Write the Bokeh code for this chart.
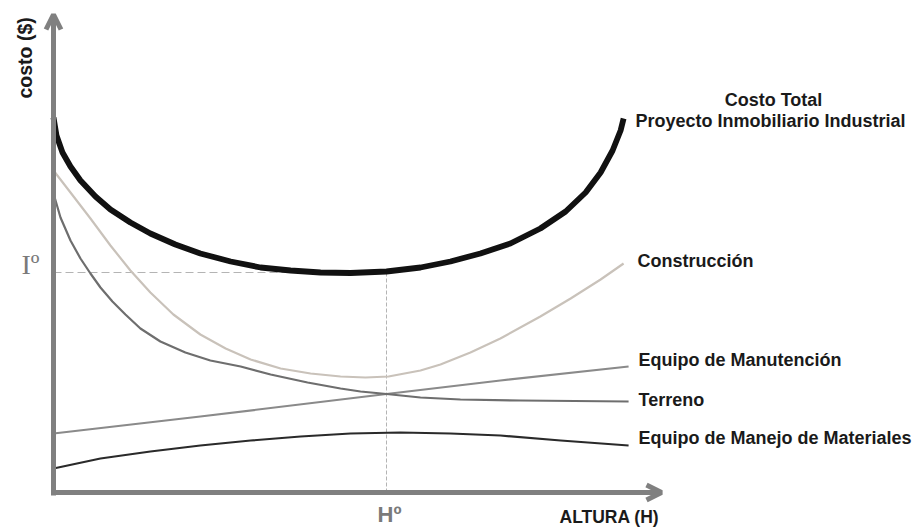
from bokeh.plotting import figure
from bokeh.models import Arrow, OpenHead, Label
from bokeh.embed import file_html
from bokeh.resources import INLINE

# ---------------- data (H° = 10, I° = 22) ----------------
H_OPT = 10.0
I_OPT = 22.0

total_x = [0, 0.09, 0.27, 0.51, 0.81, 1.26, 1.71, 2.31, 2.91, 3.66, 4.41, 5.32, 6.22,
           7.12, 8.02, 8.92, 10.0, 11.02, 11.92, 12.82, 13.72, 14.62, 15.38, 15.98,
           16.43, 16.79, 17.03, 17.12]
total_y = [37.5, 35.7, 34.0, 32.6, 31.2, 29.6, 28.3, 27.0, 25.9, 24.8, 23.9, 23.1, 22.5,
           22.2, 22.0, 21.95, 22.1, 22.5, 23.1, 23.9, 24.9, 26.4, 28.1, 30.0,
           32.0, 34.2, 36.2, 37.4]

constr_x = [0, 0.51, 1.11, 1.71, 2.31, 2.91, 3.6, 4.41, 5.17, 5.92, 6.82, 7.72, 8.62,
            9.37, 10.06, 11.02, 11.62, 12.52, 13.42, 14.62, 15.53, 16.43, 17.12]
constr_y = [32.2, 30.0, 27.4, 24.7, 22.2, 20.0, 17.8, 15.8, 14.4, 13.3, 12.4, 11.9, 11.6,
            11.5, 11.6, 12.2, 12.8, 14.0, 15.4, 17.6, 19.4, 21.3, 22.9]

terreno_x = [0, 0.21, 0.51, 0.81, 1.11, 1.41, 1.77, 2.16, 2.61, 3.21, 3.96, 4.71, 5.62,
             6.52, 7.63, 8.62, 9.22, 10.0, 11.02, 12.22, 14.02, 17.27]
terreno_y = [29.9, 27.5, 25.2, 23.4, 21.9, 20.5, 19.1, 17.8, 16.4, 15.1, 14.0, 13.2, 12.6,
             11.8, 11.0, 10.4, 10.1, 9.85, 9.5, 9.3, 9.2, 9.1]

manut_x = [0, 4.41, 10.0, 13.42, 17.27]
manut_y = [5.9, 7.6, 9.85, 11.2, 12.6]

manejo_x = [0, 1.41, 2.91, 4.41, 5.92, 7.42, 8.92, 10.42, 11.92, 13.42, 15.23, 17.27]
manejo_y = [2.4, 3.4, 4.1, 4.7, 5.2, 5.6, 5.9, 6.0, 5.9, 5.7, 5.2, 4.7]

labels = ["Costo Total", "Proyecto Inmobiliario Industrial", "Construcción",
          "Equipo de Manutención", "Terreno", "Equipo de Manejo de Materiales"]

# ---------------- layout helpers (pixel -> data) ----------------
W, H = 921, 529
OX, OY = 53.0, 492.0
SX, SY = 33.3, 10.0


def X(px):
    return (px - OX) / SX


def Y(py):
    return (OY - py) / SY


p = figure(width=W, height=H, x_range=(X(0), X(W)), y_range=(Y(H), Y(0)),
           toolbar_location=None, output_backend="svg", min_border=0)
p.axis.visible = False
p.grid.visible = False
p.outline_line_color = None
p.background_fill_color = "white"
p.border_fill_color = "white"

FONT = "Liberation Sans"
TXT = "#1a1a1a"
AX = "#808080"

# dashed guides
p.line([0, H_OPT], [I_OPT, I_OPT], line_color="#b4b4b4", line_width=1.2, line_dash="8 4")
p.line([H_OPT, H_OPT], [0, I_OPT], line_color="#b4b4b4", line_width=1, line_dash="4 2")

# curves
p.line(manejo_x, manejo_y, line_color="#2a2a2a", line_width=2.2, line_join="round")
p.line(manut_x, manut_y, line_color="#8a8a8a", line_width=2.2, line_join="round")
p.line(terreno_x, terreno_y, line_color="#6e6e6e", line_width=2.2, line_join="round")
p.line(constr_x, constr_y, line_color="#c9c2ba", line_width=2.2, line_join="round")
p.line(total_x, total_y, line_color="#111111", line_width=5.8, line_join="round")

# axes with arrows
p.add_layout(Arrow(end=OpenHead(size=15, line_color=AX, line_width=5),
                   x_start=0, y_start=Y(495), x_end=0, y_end=Y(14),
                   line_color=AX, line_width=5))
p.add_layout(Arrow(end=OpenHead(size=15, line_color=AX, line_width=5),
                   x_start=X(50.5), y_start=0, x_end=X(661), y_end=0,
                   line_color=AX, line_width=5))


def lab(text, px, py, size, color=TXT, align="left", style="bold", font=FONT, angle=0):
    # compensate the renderer's baseline offset (~0.39 em)
    if angle:
        px = px - 0.39 * size
    else:
        py = py - 0.39 * size
    p.add_layout(Label(x=X(px), y=Y(py), text=text, text_font=font,
                       text_font_size=f"{size}px", text_font_style=style,
                       text_color=color, text_align=align,
                       text_baseline="alphabetic", angle=angle))


lab(labels[0], 773, 107, 18, align="center")
lab(labels[1], 635, 128, 18)
lab(labels[2], 637, 268, 18)
lab(labels[3], 638, 367, 18)
lab(labels[4], 638, 407, 18)
lab(labels[5], 638, 445, 18)

lab("ALTURA (H)", 559, 523, 17.5)
lab("H\u00ba", 377, 523, 22, color="#7a7a7a")
lab("I\u00ba", 21, 275, 28, color="#7a7a7a", style="normal", font="Liberation Serif")
lab("costo ($)", 32, 98, 19.5, angle=1.5708)

open("out.html", "w").write(file_html(p, INLINE))
